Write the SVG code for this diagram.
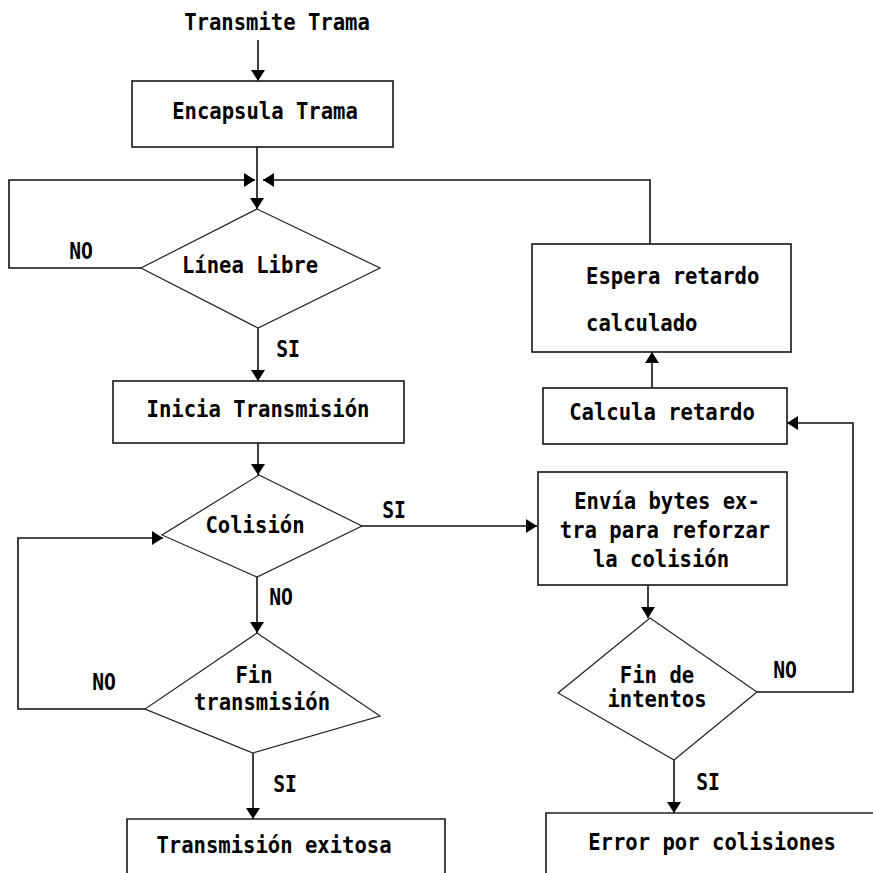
<svg xmlns="http://www.w3.org/2000/svg" width="873" height="873" viewBox="0 0 873 873">
  <style>
    .box { fill: #fff; stroke: #222; stroke-width: 1.7; }
    .dec { fill: #fff; stroke: #222; stroke-width: 1.2; }
    .edge { fill: none; stroke: #111; stroke-width: 1.6; }
    text { font-family: "DejaVu Sans Mono", "Liberation Mono", monospace; font-size: 23.5px; font-weight: bold; fill: #000; text-anchor: middle; }
    .lbl { font-size: 22.5px; }
    .left { text-anchor: start; }
  </style>
  <defs>
    <marker id="arrow" markerUnits="userSpaceOnUse" markerWidth="12" markerHeight="14" refX="11" refY="7" orient="auto">
      <path d="M0,0 L11,7 L0,14 z" fill="#000"/>
    </marker>
  </defs>

  <rect width="873" height="873" fill="#fff"/>

  <!-- connectors -->
  <g id="connectors">
    <path class="edge" d="M258,40 V81" marker-end="url(#arrow)"/>
    <path class="edge" d="M257,147 V209" marker-end="url(#arrow)"/>
    <path class="edge" d="M141,268 H9 V180 H255" marker-end="url(#arrow)"/>
    <path class="edge" d="M650,244 V180 H263" marker-end="url(#arrow)"/>
    <path class="edge" d="M258,328 V381" marker-end="url(#arrow)"/>
    <path class="edge" d="M258,443 V475" marker-end="url(#arrow)"/>
    <path class="edge" d="M362,526 H537" marker-end="url(#arrow)"/>
    <path class="edge" d="M257,577 V633" marker-end="url(#arrow)"/>
    <path class="edge" d="M145,709 H18 V538 H163" marker-end="url(#arrow)"/>
    <path class="edge" d="M253,753 V819" marker-end="url(#arrow)"/>
    <path class="edge" d="M648,585 V618" marker-end="url(#arrow)"/>
    <path class="edge" d="M757,692 H853 V423 H787" marker-end="url(#arrow)"/>
    <path class="edge" d="M674,760 V813" marker-end="url(#arrow)"/>
    <path class="edge" d="M652,388 V352" marker-end="url(#arrow)"/>
  </g>

  <!-- connector labels (glyphs narrowed to the condensed monospace look) -->
  <g id="edge-labels">
    <text class="lbl" transform="translate(81 259) scale(0.875 1)">NO</text>
    <text class="lbl" transform="translate(288 357) scale(0.875 1)">SI</text>
    <text class="lbl" transform="translate(394 518) scale(0.875 1)">SI</text>
    <text class="lbl" transform="translate(281 605) scale(0.875 1)">NO</text>
    <text class="lbl" transform="translate(104 690) scale(0.875 1)">NO</text>
    <text class="lbl" transform="translate(285 792) scale(0.875 1)">SI</text>
    <text class="lbl" transform="translate(785 678) scale(0.875 1)">NO</text>
    <text class="lbl" transform="translate(708 790) scale(0.875 1)">SI</text>
  </g>

  <g id="start">
    <text transform="translate(277 30) scale(0.875 1)">Transmite Trama</text>
  </g>

  <g id="encapsula">
    <rect class="box" x="132" y="81" width="261" height="66"/>
    <text transform="translate(265 119) scale(0.875 1)">Encapsula Trama</text>
  </g>

  <g id="linea-libre">
    <polygon class="dec" points="257,209 380,268 258,328 141,268"/>
    <text transform="translate(250 273) scale(0.875 1)">Línea Libre</text>
  </g>

  <g id="inicia">
    <rect class="box" x="113" y="381" width="291" height="62"/>
    <text transform="translate(258 417) scale(0.875 1)">Inicia Transmisión</text>
  </g>

  <g id="colision">
    <polygon class="dec" points="259,475 362,526 257,577 162,535"/>
    <text transform="translate(255 533) scale(0.875 1)">Colisión</text>
  </g>

  <g id="fin-transmision">
    <polygon class="dec" points="257,633 380,716 253,753 145,709"/>
    <text transform="translate(254 683) scale(0.875 1)">Fin</text>
    <text transform="translate(262 710) scale(0.875 1)">transmisión</text>
  </g>

  <g id="exitosa">
    <path class="box" d="M127,880 V819 H445 V880"/>
    <text transform="translate(274 853) scale(0.875 1)">Transmisión exitosa</text>
  </g>

  <g id="envia">
    <rect class="box" x="538" y="472" width="249" height="113"/>
    <text transform="translate(667 509) scale(0.875 1)">Envía bytes ex-</text>
    <text transform="translate(665 538) scale(0.875 1)">tra para reforzar</text>
    <text transform="translate(661 567) scale(0.875 1)">la colisión</text>
  </g>

  <g id="fin-intentos">
    <polygon class="dec" points="650,618 757,692 674,760 558,693"/>
    <text transform="translate(657 683) scale(0.875 1)">Fin de</text>
    <text transform="translate(657 707) scale(0.875 1)">intentos</text>
  </g>

  <g id="error">
    <path class="box" d="M546,880 V813 H880"/>
    <text transform="translate(712 850) scale(0.875 1)">Error por colisiones</text>
  </g>

  <g id="calcula">
    <rect class="box" x="543" y="388" width="244" height="56"/>
    <text transform="translate(662 420) scale(0.875 1)">Calcula retardo</text>
  </g>

  <g id="espera">
    <rect class="box" x="532" y="244" width="259" height="108"/>
    <text class="left" transform="translate(586 284) scale(0.875 1)">Espera retardo</text>
    <text class="left" transform="translate(586 331) scale(0.875 1)">calculado</text>
  </g>
</svg>
